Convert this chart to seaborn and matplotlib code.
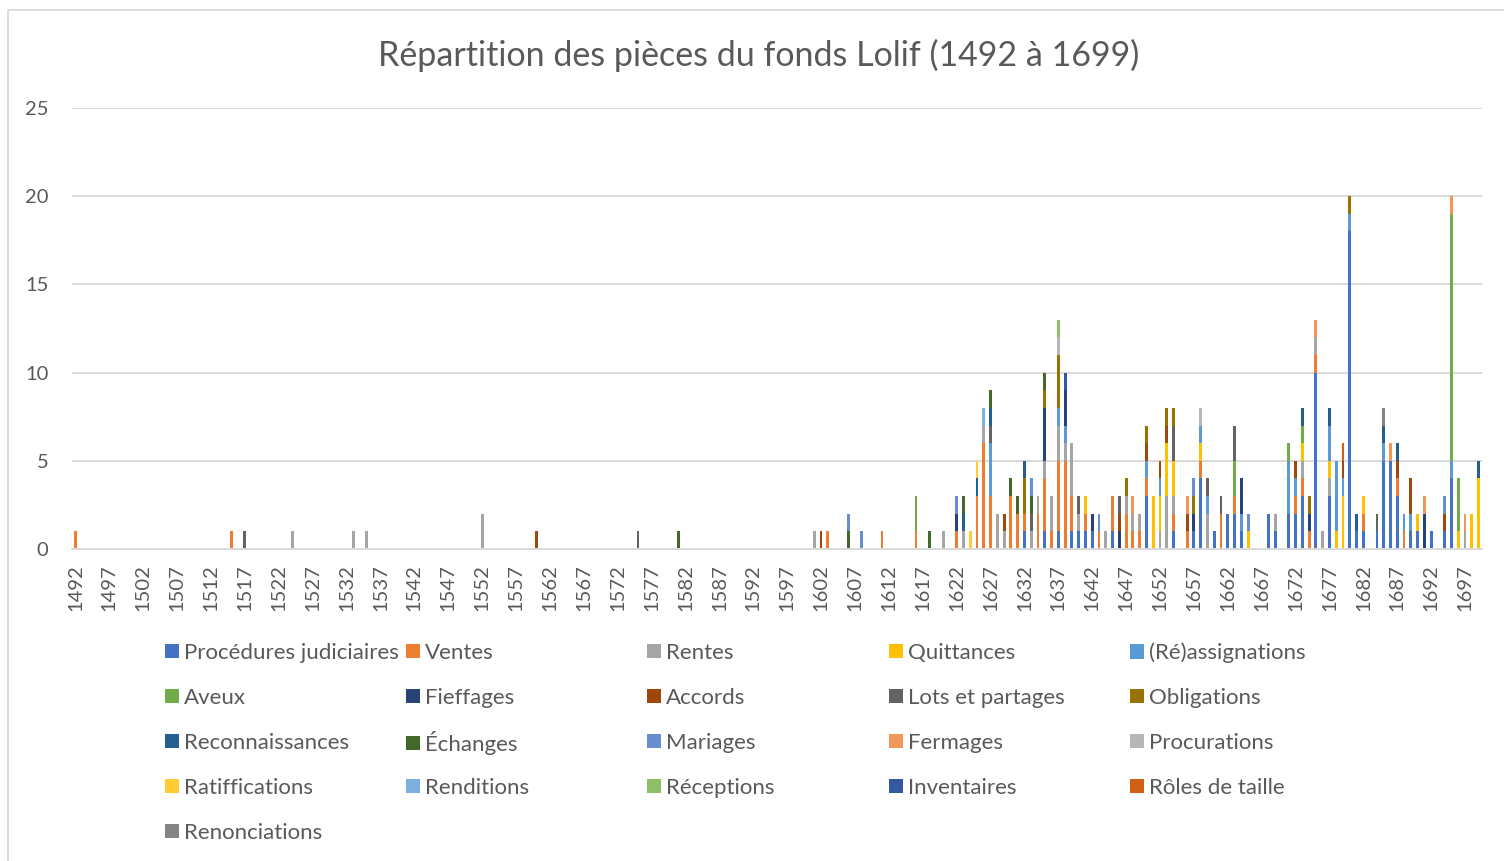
import numpy as np
import matplotlib
matplotlib.use("Agg")
import matplotlib.pyplot as plt
from matplotlib.patches import Patch, Rectangle
import seaborn as sns

# years on the x axis
years = list(range(1492, 1700))

series_names = ['Procédures judiciaires', 'Ventes', 'Rentes', 'Quittances', '(Ré)assignations',
                'Aveux', 'Fieffages', 'Accords', 'Lots et partages', 'Obligations',
                'Reconnaissances', 'Échanges', 'Mariages', 'Fermages', 'Procurations',
                'Ratiffications', 'Renditions', 'Réceptions', 'Inventaires', 'Rôles de taille',
                'Renonciations']

series_colors = ['#4472C4', '#ED7D31', '#A5A5A5', '#FFC000', '#5B9BD5',
                 '#70AD47', '#264478', '#9E480E', '#636363', '#997300',
                 '#255E91', '#43682B', '#698ED0', '#F1975A', '#B7B7B7',
                 '#FFCD33', '#7CAFDD', '#8CC168', '#335AA1', '#D26012',
                 '#848484']

# number of documents per year, one dict per category
procedures = {1632: 1, 1635: 1, 1637: 1, 1639: 1, 1640: 1, 1641: 1, 1642: 1, 1645: 1, 1650: 3,
              1654: 1, 1657: 1, 1658: 4, 1660: 1, 1662: 2, 1663: 2, 1664: 1, 1668: 2, 1669: 1,
              1671: 2, 1672: 2, 1673: 3, 1675: 10, 1677: 3, 1680: 18, 1681: 1, 1682: 1, 1684: 1,
              1685: 5, 1686: 5, 1687: 3, 1689: 1, 1690: 1, 1692: 1, 1694: 1, 1695: 4}
ventes = {1492: 1, 1515: 1, 1603: 1, 1611: 1, 1616: 1, 1622: 1, 1625: 3, 1626: 6, 1627: 3,
          1630: 3, 1631: 2, 1632: 1, 1634: 2, 1635: 3, 1636: 1, 1637: 4, 1638: 5, 1639: 2,
          1641: 1, 1643: 1, 1645: 2, 1647: 2, 1648: 1, 1649: 1, 1650: 1, 1654: 1, 1656: 1,
          1658: 1, 1661: 2, 1663: 1, 1672: 1, 1673: 1, 1674: 1, 1675: 1, 1682: 1, 1687: 1, 1688: 1}
rentes = {1524: 1, 1533: 1, 1535: 1, 1552: 2, 1601: 1, 1620: 1, 1623: 1, 1626: 1, 1628: 2,
          1629: 1, 1633: 1, 1634: 1, 1635: 1, 1636: 2, 1637: 2, 1638: 1, 1639: 3, 1640: 1,
          1644: 1, 1647: 1, 1648: 1, 1649: 1, 1652: 1, 1653: 3, 1654: 1, 1659: 2, 1669: 1,
          1673: 1, 1675: 1, 1676: 1, 1677: 1, 1697: 1}
quittances = {1641: 1, 1651: 3, 1652: 2, 1653: 3, 1654: 2, 1658: 1, 1665: 1, 1673: 1, 1677: 1,
              1678: 1, 1679: 3, 1682: 1, 1690: 1, 1696: 1, 1698: 2, 1699: 4}
reassignations = {1627: 3, 1637: 1, 1638: 1, 1650: 1, 1652: 1, 1658: 1, 1659: 1, 1664: 1,
                  1671: 3, 1672: 1, 1677: 2, 1678: 4, 1679: 1, 1680: 1, 1685: 1, 1688: 1,
                  1689: 1, 1695: 1}
aveux = {1616: 2, 1663: 2, 1671: 1, 1673: 1, 1695: 14, 1696: 3}
fieffages = {1622: 1, 1635: 3, 1638: 2, 1642: 1, 1646: 1, 1657: 1, 1664: 2, 1674: 1, 1691: 2}
accords = {1560: 1, 1602: 1, 1629: 1, 1646: 1, 1650: 1, 1652: 1, 1653: 1, 1656: 1, 1672: 1,
           1679: 1, 1687: 1, 1689: 2, 1694: 1}
lots = {1517: 1, 1575: 1, 1627: 1, 1633: 1, 1640: 1, 1646: 1, 1654: 2, 1659: 1, 1661: 1,
        1663: 2, 1684: 1}
obligations = {1632: 2, 1635: 1, 1637: 3, 1647: 1, 1650: 1, 1653: 1, 1654: 1, 1657: 1,
               1674: 1, 1680: 1}
reconnaissances = {1623: 1, 1625: 1, 1627: 1, 1632: 1, 1673: 1, 1677: 1, 1681: 1, 1685: 1,
                   1687: 1, 1699: 1}
echanges = {1581: 1, 1606: 1, 1618: 1, 1623: 1, 1627: 1, 1630: 1, 1631: 1, 1633: 1, 1635: 1}
mariages = {1606: 1, 1608: 1, 1622: 1, 1633: 1, 1643: 1, 1657: 1, 1665: 1, 1694: 1}
fermages = {1648: 1, 1656: 1, 1675: 1, 1686: 1, 1691: 1, 1695: 1, 1697: 1}
procurations = {1637: 1, 1658: 1}
ratiffications = {1624: 1, 1625: 1}
renditions = {1626: 1}
receptions = {1637: 1}
inventaires = {1638: 1}
roles_taille = {1679: 1}
renonciations = {1685: 1}

series_data = [procedures, ventes, rentes, quittances, reassignations, aveux, fieffages,
               accords, lots, obligations, reconnaissances, echanges, mariages, fermages,
               procurations, ratiffications, renditions, receptions, inventaires,
               roles_taille, renonciations]

M = np.array([[d.get(y, 0) for y in years] for d in series_data], dtype=float)
cums = np.cumsum(M, axis=0)
year_labels = [str(y) for y in years]

sns.set_style("white")
plt.rcParams['font.family'] = ['Lato', 'DejaVu Sans']
txt = '#595959'

fig = plt.figure(figsize=(15.04, 8.61), dpi=100)
W, H = 1504., 861.
ax = fig.add_axes([72 / W, 1 - 549 / H, 1410 / W, 441 / H])

# stacked bars: draw cumulative totals from the top series down
for i in range(len(series_names) - 1, -1, -1):
    sns.barplot(x=year_labels, y=cums[i], order=year_labels, color=series_colors[i],
                saturation=1, width=0.42, errorbar=None, linewidth=0, ax=ax)

ax.set_xlim(-0.5, len(years) - 0.5)
ax.set_ylim(0, 25)
ax.set_yticks([0, 5, 10, 15, 20, 25])
ax.set_xticks(range(0, len(years), 5))
ax.set_xticklabels(year_labels[::5], rotation=90)
ax.tick_params(axis='x', length=0, pad=11, labelsize=14.5, colors=txt)
ax.tick_params(axis='y', length=0, pad=17, labelsize=14.5, colors=txt)
ax.yaxis.grid(True, color='#d9d9d9', linewidth=1.4)
ax.set_axisbelow(True)
for s in ['left', 'right', 'top']:
    ax.spines[s].set_visible(False)
ax.spines['bottom'].set_color('#d9d9d9')
ax.spines['bottom'].set_linewidth(1.4)
ax.set_xlabel('')
ax.set_ylabel('')

fig.text(759 / W, 1 - 55 / H, 'Répartition des pièces du fonds Lolif (1492 à 1699)',
         ha='center', va='center', fontsize=24.5, color=txt)

# legend laid out like Excel: 5 evenly spaced columns, filled row by row
col_x = [165, 406, 647, 889, 1130]
row_y = [653, 698, 743, 788, 833]
fs = 16
fpx = fs * 100 / 72
for k, (name, col) in enumerate(zip(series_names, series_colors)):
    r, c = divmod(k, 5)
    fig.legend(handles=[Patch(facecolor=col, edgecolor='none')], labels=[name],
               loc='center left', bbox_to_anchor=(col_x[c] / W, 1 - row_y[r] / H),
               frameon=False, fontsize=fs, labelcolor=txt, borderpad=0, borderaxespad=0,
               handlelength=14 / fpx, handleheight=14 / fpx, handletextpad=5 / fpx)

# chart area border
fig.add_artist(Rectangle((8 / W, -0.1), 1.2, 0.1 + (H - 10) / H, transform=fig.transFigure,
                         fill=False, edgecolor='#d9d9d9', linewidth=1.3))

fig.savefig('out.png', dpi=100)
